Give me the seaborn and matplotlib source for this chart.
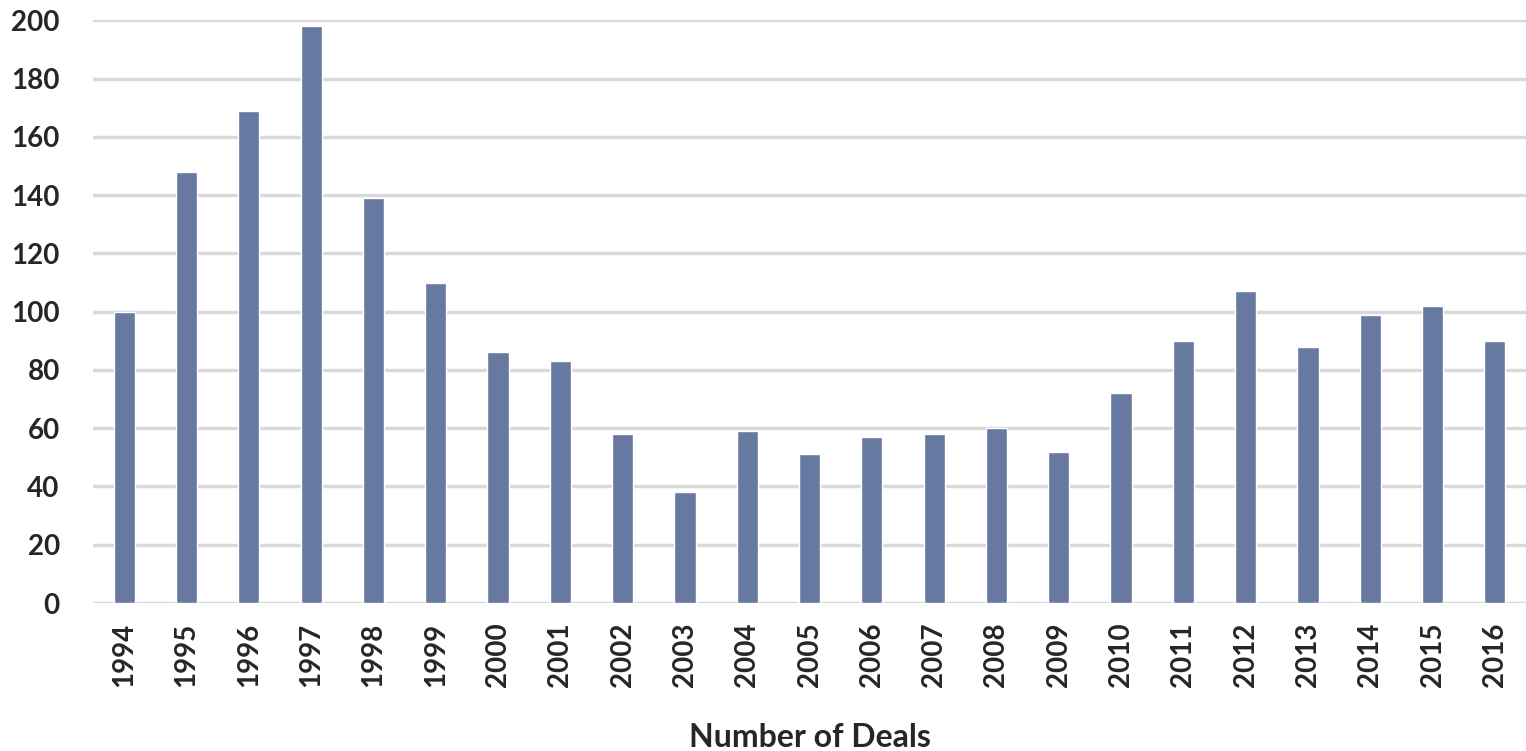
import matplotlib
matplotlib.use("Agg")
import matplotlib.pyplot as plt
import seaborn as sns
import pandas as pd

years = [str(y) for y in range(1994, 2017)]
deals = [100, 148, 169, 198, 139, 110, 86, 83, 58, 38, 59, 51, 57, 58, 60, 52,
         72, 90, 107, 88, 99, 102, 90]
yticks = [0, 20, 40, 60, 80, 100, 120, 140, 160, 180, 200]

sns.set_theme(style="white")
plt.rcParams['font.family'] = ['Lato', 'DejaVu Sans']

df = pd.DataFrame({"Year": years, "Deals": deals})

fig = plt.figure(figsize=(15.26, 7.51), dpi=100)
ax = fig.add_axes([0.061, 0.197, 0.939, 0.776])
sns.barplot(data=df, x="Year", y="Deals", color="#6779a1", saturation=1,
            width=0.34, ax=ax, zorder=3)
ax.set_ylim(0, 200)
ax.set_yticks(yticks)
ax.set_xlim(-0.5, len(years) - 0.5)
ax.grid(axis="y", color="#d9d9d9", linewidth=2.5, zorder=0)
ax.set_axisbelow(True)
for s in ax.spines.values():
    s.set_visible(False)
ax.tick_params(axis="both", length=0, labelsize=20)
ax.tick_params(axis="y", pad=24)
ax.tick_params(axis="x", pad=14)
for lbl in ax.get_xticklabels():
    lbl.set_rotation(90)
    lbl.set_fontweight("bold")
for lbl in ax.get_yticklabels():
    lbl.set_fontweight("bold")
ax.set_ylabel("")
ax.set_xlabel("Number of Deals", fontsize=23, fontweight="bold", labelpad=26)
fig.savefig("out.png", dpi=100)
